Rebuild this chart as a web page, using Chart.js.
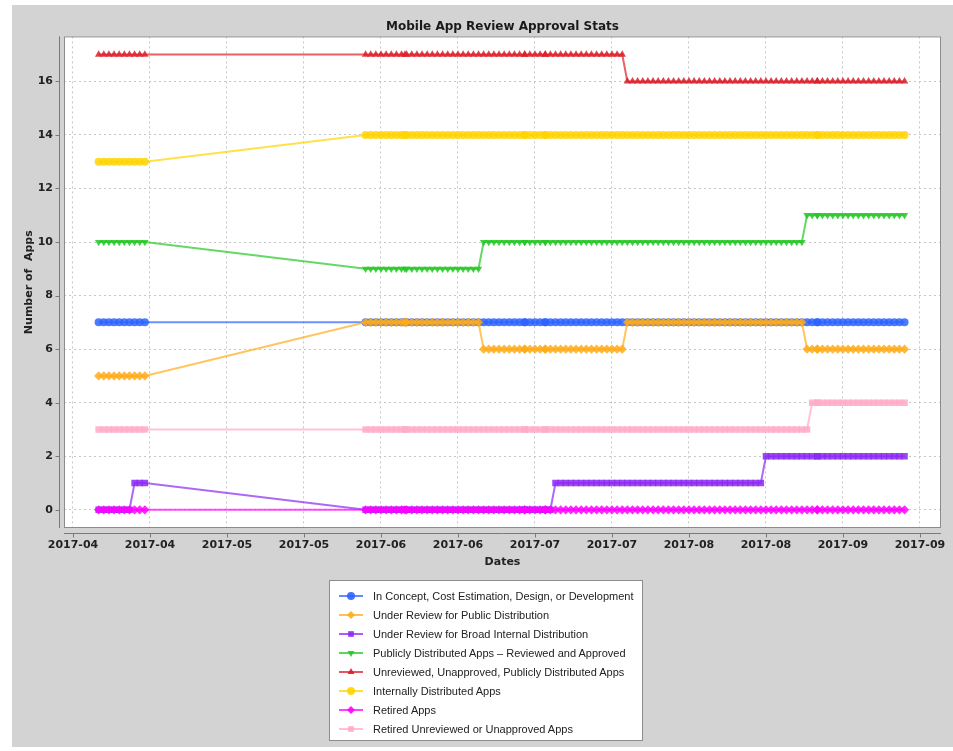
<!DOCTYPE html>
<html>
<head>
<meta charset="utf-8">
<title>Mobile App Review Approval Stats</title>
<script src="https://cdn.jsdelivr.net/npm/chart.js@4.4.0/dist/chart.umd.min.js"></script>
<style>
    html, body { margin: 0; padding: 0; background: #fff; }
    body { width: 953px; height: 751px; position: relative; overflow: hidden; }
    #panel { position: absolute; left: 12px; top: 5px; width: 941px; height: 742px; background: #d3d3d3; }
    #chartWrap { position: absolute; left: 0; top: 0; width: 953px; height: 751px; }
    #legend {
        position: absolute; left: 329px; top: 580px; width: 312px; height: 153px;
        background: #fff; border: 1px solid #8c8c8c; padding-top: 6px; box-sizing: content-box;
        font: 11px "Liberation Sans", Arial, sans-serif; color: #222;
    }
    .legend-row { height: 18.9px; display: flex; align-items: center; }
    .legend-row canvas { margin-left: 8px; margin-right: 9px; }
</style>
</head>
<body>
<div id="panel"></div>
<div id="chartWrap"><canvas id="approvalChart"></canvas></div>
<div id="legend"></div>
<script>
// Series names (legend order)
const seriesNames = [
    'In Concept, Cost Estimation, Design, or Development',
    'Under Review for Public Distribution',
    'Under Review for Broad Internal Distribution',
    'Publicly Distributed Apps \u2013 Reviewed and Approved',
    'Unreviewed, Unapproved, Publicly Distributed Apps',
    'Internally Distributed Apps',
    'Retired Apps',
    'Retired Unreviewed or Unapproved Apps'
];

// Daily readings: two runs of dates, plus a few extra readings
const sampleRuns = [['2017-04-10', '2017-04-19'], ['2017-06-01', '2017-09-14']];
const extraSamples = ['2017-06-08T16:00', '2017-07-02', '2017-07-06', '2017-08-28'];

// Each series: [date from which the value holds, value]
const conceptSteps = [['2017-04-10', 7]];
const publicReviewSteps = [['2017-04-10', 5], ['2017-06-01', 7], ['2017-06-24', 6], ['2017-07-22', 7], ['2017-08-26', 6]];
const internalReviewSteps = [['2017-04-10', 0], ['2017-04-17', 1], ['2017-06-01', 0], ['2017-07-08', 1], ['2017-08-18', 2]];
const publicApprovedSteps = [['2017-04-10', 10], ['2017-06-01', 9], ['2017-06-24', 10], ['2017-08-26', 11]];
const unreviewedSteps = [['2017-04-10', 17], ['2017-07-22', 16]];
const internalSteps = [['2017-04-10', 13], ['2017-06-01', 14]];
const retiredSteps = [['2017-04-10', 0]];
const retiredUnreviewedSteps = [['2017-04-10', 3], ['2017-08-27', 4]];

// Axis ticks
const tickDates = ['2017-04-05', '2017-04-20', '2017-05-05', '2017-05-20', '2017-06-04', '2017-06-19',
    '2017-07-04', '2017-07-19', '2017-08-03', '2017-08-18', '2017-09-02', '2017-09-17'];
const yTicks = [0, 2, 4, 6, 8, 10, 12, 14, 16];

const DAY = 86400000;
function toMs(s) {
    return Date.parse(s.length === 10 ? s + 'T00:00Z' : s + 'Z');
}

// Collect sample times
const sampleTimes = [];
sampleRuns.forEach(([from, to]) => {
    for (let t = toMs(from); t <= toMs(to); t += DAY) sampleTimes.push(t);
});
extraSamples.forEach(s => sampleTimes.push(toMs(s)));
sampleTimes.sort((a, b) => a - b);

function valueAt(steps, t) {
    let v = steps[0][1];
    steps.forEach(([d, val]) => { if (toMs(d) <= t) v = val; });
    return v;
}

const allSteps = [conceptSteps, publicReviewSteps, internalReviewSteps, publicApprovedSteps,
    unreviewedSteps, internalSteps, retiredSteps, retiredUnreviewedSteps];

// Styles
const colors = [[45, 100, 255], [255, 172, 25], [140, 40, 245], [35, 200, 35],
    [220, 30, 40], [255, 212, 0], [255, 0, 255], [255, 170, 200]];
const shapes = [
    { style: 'circle', rot: 0, r: 4 },
    { style: 'rectRot', rot: 0, r: 4.6 },
    { style: 'rect', rot: 0, r: 4.6 },
    { style: 'triangle', rot: 180, r: 4.3 },
    { style: 'triangle', rot: 0, r: 4.3 },
    { style: 'circle', rot: 0, r: 4 },
    { style: 'rectRot', rot: 0, r: 4.6 },
    { style: 'rect', rot: 0, r: 4.6 }
];
const rgba = (c, a) => `rgba(${c[0]},${c[1]},${c[2]},${a})`;

const datasets = seriesNames.map((name, i) => ({
    label: name,
    data: sampleTimes.map(t => ({ x: t, y: valueAt(allSteps[i], t) })),
    borderColor: rgba(colors[i], 0.7),
    backgroundColor: rgba(colors[i], 0.85),
    pointBackgroundColor: rgba(colors[i], 0.85),
    pointBorderWidth: 0,
    pointRadius: shapes[i].r,
    pointStyle: shapes[i].style,
    pointRotation: shapes[i].rot,
    borderWidth: 2,
    tension: 0,
    order: -i
}));

const tickFont = { family: '"DejaVu Sans", sans-serif', size: 11, weight: 'bold' };
const titleFont = { family: '"DejaVu Sans", sans-serif', size: 11, weight: 'bold' };

// White plot area, frame, offset axis lines and tick marks
const framePlugin = {
    id: 'frame',
    beforeDraw(chart) {
        const { ctx, chartArea: a } = chart;
        ctx.save();
        ctx.fillStyle = '#fff';
        ctx.fillRect(a.left, a.top, a.right - a.left, a.bottom - a.top);
        ctx.restore();
    },
    afterDraw(chart) {
        const { ctx, chartArea: a, scales } = chart;
        ctx.save();
        ctx.strokeStyle = '#8c8c8c';
        ctx.lineWidth = 1;
        ctx.strokeRect(a.left + 0.5, a.top + 0.5, a.right - a.left - 1, a.bottom - a.top - 1);
        ctx.strokeStyle = '#7a7a7a';
        ctx.beginPath();
        ctx.moveTo(a.left - 4.5, a.top);
        ctx.lineTo(a.left - 4.5, a.bottom);
        ctx.moveTo(a.left, a.bottom + 5.5);
        ctx.lineTo(a.right, a.bottom + 5.5);
        scales.y.ticks.forEach(t => {
            const y = Math.round(scales.y.getPixelForValue(t.value)) + 0.5;
            ctx.moveTo(a.left - 8.5, y);
            ctx.lineTo(a.left - 4.5, y);
        });
        scales.x.ticks.forEach(t => {
            const x = Math.round(scales.x.getPixelForValue(t.value)) + 0.5;
            ctx.moveTo(x, a.bottom + 5.5);
            ctx.lineTo(x, a.bottom + 9.5);
        });
        ctx.stroke();
        ctx.restore();
    }
};

const chart = new Chart(document.getElementById('approvalChart'), {
    type: 'line',
    data: { datasets },
    plugins: [framePlugin],
    options: {
        responsive: true,
        maintainAspectRatio: false,
        animation: false,
        events: [],
        layout: { padding: { left: 0, right: 12, top: 0, bottom: 0 } },
        plugins: {
            legend: { display: false },
            tooltip: { enabled: false },
            title: {
                display: true,
                text: 'Mobile App Review Approval Stats',
                fullSize: false,
                color: '#1a1a1a',
                font: { family: '"DejaVu Sans", sans-serif', size: 12, weight: 'bold' },
                padding: { top: 20, bottom: 2 }
            }
        },
        scales: {
            x: {
                type: 'linear',
                min: toMs('2017-04-03T06:00'),
                max: toMs('2017-09-21T02:24'),
                afterBuildTicks: s => { s.ticks = tickDates.map(d => ({ value: toMs(d) })); },
                afterFit: s => { s.height = 223; s.paddingLeft = 0; s.paddingRight = 0; },
                ticks: {
                    callback: v => new Date(v).toISOString().slice(0, 7),
                    maxRotation: 0, autoSkip: false, padding: 11,
                    color: '#222', font: tickFont
                },
                grid: { color: '#c6c6c6', drawTicks: false },
                border: { display: false, dash: [2, 3] },
                title: {
                    display: true, text: 'Dates', color: '#222', font: titleFont,
                    padding: { top: 0, bottom: 182 }
                }
            },
            y: {
                min: -0.68,
                max: 17.68,
                afterBuildTicks: s => { s.ticks = yTicks.map(v => ({ value: v })); },
                afterFit: s => { s.width = 64; s.paddingTop = 0; s.paddingBottom = 0; },
                ticks: { padding: 11, color: '#222', font: tickFont },
                grid: { color: '#c6c6c6', drawTicks: false },
                border: { display: false, dash: [2, 3] },
                title: {
                    display: true, text: 'Number of  Apps', color: '#222', font: titleFont,
                    padding: { top: 22.4, bottom: 0 }
                }
            }
        }
    }
});

// HTML legend: line with marker, then label
const legendBox = document.getElementById('legend');
seriesNames.forEach((name, i) => {
    const row = document.createElement('div');
    row.className = 'legend-row';
    const icon = document.createElement('canvas');
    icon.width = 26;
    icon.height = 12;
    const ictx = icon.getContext('2d');
    ictx.strokeStyle = rgba(colors[i], 0.75);
    ictx.lineWidth = 2;
    ictx.beginPath();
    ictx.moveTo(1, 6);
    ictx.lineTo(25, 6);
    ictx.stroke();
    ictx.fillStyle = rgba(colors[i], 0.9);
    if (Chart.helpers && Chart.helpers.drawPoint) {
        Chart.helpers.drawPoint(ictx, { pointStyle: shapes[i].style, rotation: shapes[i].rot, radius: 4, borderWidth: 0 }, 13, 6);
    } else {
        ictx.beginPath();
        ictx.arc(13, 6, 3.5, 0, Math.PI * 2);
        ictx.fill();
    }
    const label = document.createElement('span');
    label.textContent = name;
    row.appendChild(icon);
    row.appendChild(label);
    legendBox.appendChild(row);
});
</script>
</body>
</html>
